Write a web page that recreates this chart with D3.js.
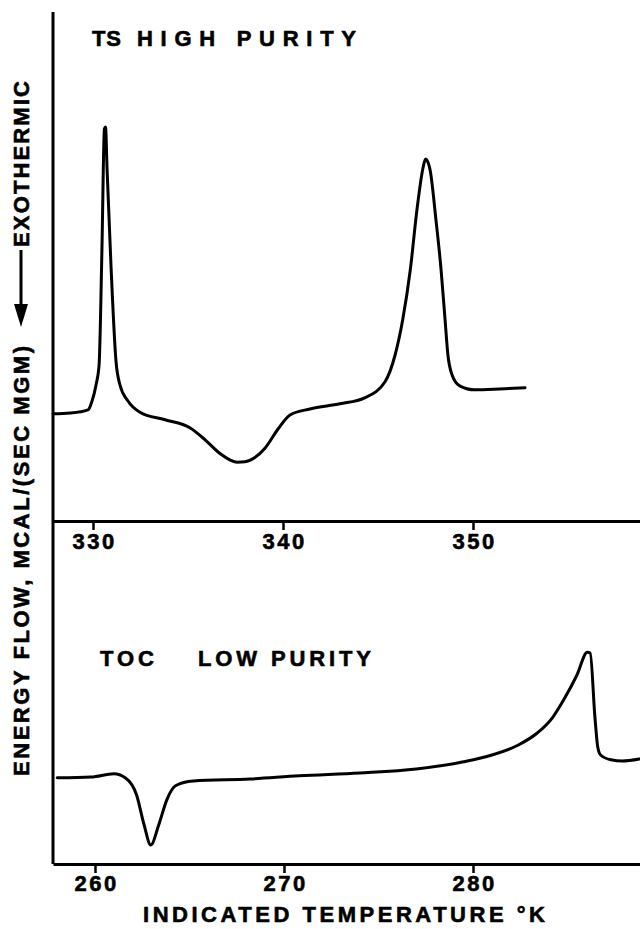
<!DOCTYPE html>
<html><head><meta charset="utf-8">
<script src="https://cdn.jsdelivr.net/npm/d3@7/dist/d3.min.js"></script>
<style>html,body{margin:0;padding:0;background:#fff}</style>
</head><body><svg id="c" width="640" height="929"></svg>
<script>
// ---- data ----
const tsTemp = [327.9, 328.8, 329.74, 329.95, 330.16, 330.32, 330.47, 330.6, 330.66, 330.74, 330.95, 331.21, 331.42, 331.84, 332.47, 333.79, 335.1, 335.9, 336.7, 337.2, 337.6, 338.0, 338.5, 339.05, 339.74, 340.37, 341.42, 343.0, 344.3, 345.37, 345.9, 346.3, 346.7, 347.05, 347.37, 347.5, 347.58, 347.74, 348.05, 348.32, 348.53, 348.68, 348.9, 349.3, 350.1, 351.4, 352.74];
const tsFlow = [2.18, 2.2, 2.28, 2.5, 2.9, 3.4, 6.28, 9.3, 9.35, 8.3, 5.85, 3.5, 2.9, 2.5, 2.22, 2.03, 1.83, 1.53, 1.18, 1.03, 0.97, 0.98, 1.08, 1.32, 1.8, 2.15, 2.3, 2.43, 2.58, 2.98, 3.65, 4.53, 5.78, 7.28, 8.33, 8.55, 8.52, 8.28, 7.03, 5.78, 4.53, 3.65, 3.15, 2.88, 2.78, 2.8, 2.83];
const tocTemp = [258.0, 259.8, 261.0, 261.6, 262.2, 262.6, 262.95, 263.37, 263.8, 264.26, 265.2, 268.2, 270.8, 274.0, 277.0, 279.5, 281.0, 282.4, 283.4, 284.2, 284.8, 285.5, 286.05, 286.2, 286.45, 286.6, 286.75, 287.3, 287.9, 288.8];
const tocFlow = [2.08, 2.1, 2.18, 2.08, 1.65, 0.9, 0.4, 0.9, 1.53, 1.88, 2.0, 2.05, 2.13, 2.2, 2.3, 2.48, 2.65, 2.9, 3.2, 3.58, 4.03, 4.65, 5.22, 5.2, 3.6, 2.85, 2.65, 2.53, 2.5, 2.55];
const topTicks = [330, 340, 350];
const bottomTicks = [260, 270, 280];
const topTitle = ["TS", "HIGH PURITY"];
const bottomTitle = ["TOC", "LOW PURITY"];
const xTitle = "INDICATED TEMPERATURE \u00B0K";
const yTitle = "ENERGY FLOW, MCAL/(SEC MGM)";
const yArrowTitle = "EXOTHERMIC";

// ---- scales ----
const W = 640;
const left = 53;
const baseTop = d3.scaleLinear().domain([330, 350]).range([93, 473]);
const xTop = d3.scaleLinear().domain([baseTop.invert(left), baseTop.invert(W)]).range([left, W]);
const baseBot = d3.scaleLinear().domain([260, 280]).range([95, 473]);
const xBot = d3.scaleLinear().domain([baseBot.invert(left), baseBot.invert(W)]).range([left, W]);
const yTop = d3.scaleLinear().domain([0, 10]).range([501, 101]);
const yBot = d3.scaleLinear().domain([0, 10]).range([861, 461]);
const axisTopY = 521, axisBotY = 864, axisTopEnd = 12;

const svg = d3.select("#c");
const FONT = "'Liberation Sans', Arial, sans-serif";

// vertical axis
svg.append("line").attr("x1", left).attr("x2", left).attr("y1", axisTopEnd).attr("y2", axisBotY)
  .attr("stroke", "#000").attr("stroke-width", 3);

function drawAxis(x, y, ticks, tsize, pad) {
  const g = svg.append("g").attr("transform", `translate(0,${y})`)
    .call(d3.axisBottom(x).tickValues(ticks).tickSize(tsize).tickSizeOuter(0).tickPadding(pad).tickFormat(d3.format("d")));
  g.select(".domain").attr("stroke", "#000").attr("stroke-width", 3);
  g.selectAll(".tick line").attr("stroke", "#000").attr("stroke-width", 2.5);
  g.selectAll(".tick text").attr("fill", "#000").attr("stroke", "#000").attr("stroke-width", 0.6)
    .attr("font-family", FONT).attr("font-weight", "bold")
    .attr("font-size", 22).attr("letter-spacing", 2.5).attr("dx", 1.2);
}
drawAxis(xTop, axisTopY, topTicks, 9, 3);
drawAxis(xBot, axisBotY, bottomTicks, 9, 2);

// curves
const lineTop = d3.line().x((d, i) => xTop(tsTemp[i])).y((d, i) => yTop(tsFlow[i])).curve(d3.curveMonotoneX);
svg.append("path").attr("d", lineTop(tsTemp)).attr("fill", "none").attr("stroke", "#000")
  .attr("stroke-width", 3).attr("stroke-linejoin", "round").attr("stroke-linecap", "round");
const lineBot = d3.line().x((d, i) => xBot(tocTemp[i])).y((d, i) => yBot(tocFlow[i])).curve(d3.curveMonotoneX);
svg.append("path").attr("d", lineBot(tocTemp)).attr("fill", "none").attr("stroke", "#000")
  .attr("stroke-width", 3).attr("stroke-linejoin", "round").attr("stroke-linecap", "round");

// texts
function txt(s, x, y, len, size) {
  return svg.append("text").attr("x", x).attr("y", y).text(s)
    .attr("font-family", FONT).attr("font-weight", "bold").attr("font-size", size || 22)
    .attr("stroke", "#000").attr("stroke-width", 0.6)
    .attr("textLength", len).attr("lengthAdjust", "spacing").attr("fill", "#000");
}
txt(topTitle[0], 92, 46, 29);
txt(topTitle[1], 137, 46, 219);
txt(bottomTitle[0], 100, 666, 54);
txt(bottomTitle[1], 198, 666, 173);
txt(xTitle, 143, 922, 402);

// y title (rotated)
function vtxt(s, x, y, len) {
  return svg.append("text").attr("transform", `translate(${x},${y}) rotate(-90)`).text(s)
    .attr("font-family", FONT).attr("font-weight", "bold").attr("font-size", 22)
    .attr("stroke", "#000").attr("stroke-width", 0.6)
    .attr("textLength", len).attr("lengthAdjust", "spacing").attr("fill", "#000");
}
vtxt(yTitle, 29, 776, 430);
vtxt(yArrowTitle, 29, 247, 166);
// arrow
svg.append("line").attr("x1", 21).attr("x2", 21).attr("y1", 250).attr("y2", 310)
  .attr("stroke", "#000").attr("stroke-width", 3);
svg.append("path").attr("d", "M14,304 L28,304 L21,327 Z").attr("fill", "#000");
</script>
</body></html>
